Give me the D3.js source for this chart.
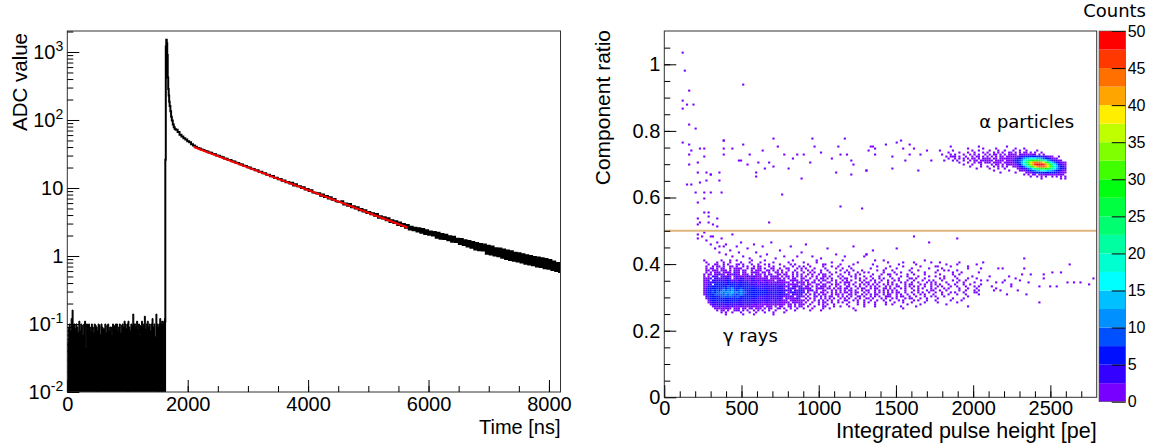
<!DOCTYPE html>
<html>
<head>
<meta charset="utf-8">
<script src="https://cdn.jsdelivr.net/npm/d3@7"></script>
<style>
  body { margin: 0; background: #fff; }
  svg { display: block; }
  text { font-family: "Liberation Sans", Arial, sans-serif; fill: #000; }
  .note { font-family: "DejaVu Sans", sans-serif; }
</style>
</head>
<body>
<div id="chart"></div>
<script>
// ---------- left panel: recorded pulse ----------
// baseline noise before the trigger, one value every 16 ns
const baseStep = 16;
const baseNoise = [
  0.055, 0.09, 0.1, 0.08, 0.12, 0.16, 0.095, 0.1, 0.085, 0.1,
  0.09, 0.075, 0.11, 0.08, 0.1, 0.095, 0.07, 0.1, 0.11, 0.045,
  0.1, 0.085, 0.1, 0.09, 0.08, 0.1, 0.09, 0.075, 0.1, 0.095,
  0.09, 0.08, 0.1, 0.095, 0.07, 0.1, 0.09, 0.085, 0.085, 0.1,
  0.075, 0.095, 0.1, 0.08, 0.09, 0.09, 0.07, 0.1, 0.095, 0.085,
  0.1, 0.1, 0.08, 0.09, 0.1, 0.075, 0.095, 0.1, 0.09, 0.11,
  0.1, 0.085, 0.1, 0.11, 0.09, 0.08, 0.1, 0.095, 0.14, 0.1,
  0.1, 0.09, 0.11, 0.085, 0.1, 0.07, 0.095, 0.11, 0.09, 0.1,
  0.13, 0.085, 0.1, 0.11, 0.09, 0.1, 0.08, 0.1, 0.12, 0.09,
  0.1, 0.065, 0.14, 0.1, 0.09, 0.1, 0.12, 0.1, 0.11, 0.1,
  0.11, 0.12
];
// rise and fast component
const pulseT = [1624, 1628, 1636, 1644, 1652, 1660, 1668, 1676, 1684, 1692, 1700, 1712, 1724, 1736, 1752, 1768, 1784];
const pulseV = [0.11, 26, 1200, 1520, 1350, 900, 420, 285, 230, 185, 160, 135, 112, 98, 86, 78, 74];
// slow tail, one value every 32 ns from 1800 ns
const tailStart = 1800, tailStep = 32;
const tailV = [
  72, 66.5, 60.8, 57.4, 53.9, 51.6, 48.8, 46.9, 43.9, 42.2,
  40.4, 38.7, 38.2, 36.8, 36.3, 35.1, 34.4, 33.2, 32.9, 31.7,
  31.3, 30.1, 29.8, 28.8, 28.4, 27.2, 27.0, 25.9, 25.7, 24.7,
  24.5, 23.5, 23.3, 22.4, 22.1, 21.2, 21.1, 20.2, 20.1, 19.2,
  19.1, 18.2, 18.2, 17.3, 17.3, 16.5, 16.5, 15.7, 15.7, 14.9,
  15.0, 14.2, 14.2, 13.5, 13.6, 12.8, 12.9, 12.2, 12.3, 11.6,
  11.9, 10.9, 11.4, 10.6, 10.6, 10.0, 10.3, 9.5, 9.7, 9.0,
  9.3, 8.6, 8.5, 8.3, 8.4, 7.7, 8.0, 7.4, 7.6, 7.0,
  7.3, 6.7, 6.9, 6.4, 6.3, 6.2, 6.4, 5.7, 5.9, 5.5,
  5.8, 5.2, 5.4, 5.0, 5.2, 4.7, 4.9, 4.5, 4.7, 4.3,
  4.45, 4.1, 4.25, 3.9, 4.15, 3.65, 3.85, 3.55, 3.7, 3.35,
  3.6, 3.15, 3.35, 3.05, 3.25, 2.85, 3.1, 2.75, 2.95, 2.6,
  2.85, 2.45, 2.7, 2.4, 2.6, 2.3, 2.55, 2.2, 2.5, 2.1,
  2.4, 2.05, 2.3, 2.0, 2.25, 1.85, 2.2, 1.8, 2.1, 1.78,
  2.05, 1.7, 1.95, 1.62, 1.92, 1.6, 1.8, 1.5, 1.78, 1.45,
  1.7, 1.38, 1.66, 1.32, 1.6, 1.25, 1.55, 1.22, 1.5, 1.2,
  1.48, 1.08, 1.42, 1.05, 1.38, 1.02, 1.3, 0.99, 1.29, 0.94,
  1.25, 0.9, 1.2, 0.87, 1.17, 0.85, 1.12, 0.83, 1.1, 0.8,
  1.06, 0.77, 1.03, 0.75, 1.0, 0.73, 0.97, 0.7, 0.95, 0.69,
  0.93, 0.66, 0.9, 0.65, 0.87, 0.62, 0.83, 0.6, 0.79, 0.58
];
// exponential fit (straight on the log axis): end points
const fitT = [2100, 5650];
const fitV = [40, 2.62];
const timeTicks = [0, 2000, 4000, 6000, 8000];
const adcDecades = [-2, -1, 0, 1, 2, 3];

// ---------- right panel: component ratio vs pulse height ----------
const peBin = 14, ratioBin = 0.006;
// gamma band: first column at 196 pe, first (top) row at ratio 0.408
const gammaOrigin = [196, 0.408];
const gammaRows = [
  "....1..... ..1...1..1 ......1... ..1....... .....1.... ......1... ........1. .......... ...1...... .......... ......1... .......... .......... ......",
  ".....1.... 1..1..1... .1...1.... 1.....1... ...1...... 1.....1... ...1...... .....1.... .........1 ......1... .......... ...1...... .......... ......",
  "......1..2 1..1.2...1 1.1...1..1 ..1.1....1 ....1.1... ..1......1 1......1.. ...1...... ..1....... ....1..... ..1....... ......1... .1........ ......",
  ".....1..1. 21.1..12.1 ..2.1..1.1 1...1.2... .1...1..1. 1..1.....1 ...1..1... .1........ ....1..... 1.....1... ....1..... .1......1. ......1... ......",
  ".....1.21. 2.12..2.11 21..1.12.1 1.1..21..1 ..11...1.1 .1...1.... 1....1..1. ..1....... .1......1. ...1...... 1.......1. ....1..... ......1... ..1...",
  ".....21.12 1.212.1.22 1.21..2.11 2..11.1.2. 1..2..1..1 ..1.1...1. .1.....1.. 1..1...1.. ....1..1.. .1.......1 ...1...... ..1....1.. .1........ ......",
  ".....1.2.2 21.1221.31 2.12..2121 .21.1..12. 1.1..2.1.. 1..1.1..1. ..1..1...1 .1...1..1. 1......1.. ..1..1.... 1.....1... .1.......1 ...1...... .1....",
  "....1.21.2 2312.22131 2.212.1.22 1.1.21..21 .21..1.1.1 ..1.2..1.1 1..1...1.. .1..1.1... ..1...1..1 1..1....1. .1....1... ...1.....1 ..1....... ......",
  "....1.2.32 3.23132.23 1222321312 2.12.2121. 1.21.1.1.2 .1..2.1..1 1.1...1.1. ..1.1...1. .1...1.... 1....1..1. ...1....1. .1...1.... 1.......1. ......",
  "....1223.3 3232432.24 2332123222 1221.21221 .2.1.12..1 2..1..1.11 .1.2...1.1 1...1.1..1 ..1..1.1.. .1..1....1 1.1...1... ...1.1.... .1....1... 1.....",
  "....123.43 4343354232 3342323313 2232221.12 21..2112.1 .12..1.1.2 1..2.1..1. 1.1...2.1. .1.1..1..1 ..1.1...1. .1...1..1. 1...1....1 ..1..1.... ..1...",
  "....124344 5454365453 4535424232 3223212232 1221.2.212 2.1.21..1. .12..1.1.1 21..1..1.1 1..1.2...1 .1...1.1.. 1..1...1.1 .1....1... .1..1....1 ......",
  "....1243.5 5556476554 5364534342 3343232322 23.22122.1 1.21..21.2 2..1.21..1 .1.2..1.1. 2.1.1..2.1 .1.1...1.1 1...1.1..1 .1.1...1.. 1...1..1.. ..1...",
  "....125465 6657687665 6656545443 4434343333 3223.23232 .12.1.1.21 1.2..2.1.. 21..1.2..1 .1.1.2..1. 1..21..1.1 .1.1..1..1 ..1.1...1. .1...1...1 .1....",
  "....135676 7768798a76 7876655654 4454343434 32.3232.23 2113..1212 .12.1.12.1 2.1..2.11. .2.11..21. 1.1..1.1.. 1..1.1...1 .1...1.1.. ..1...1... 1.....",
  "....135787 879a8b9c87 8a87766665 5545443434 33323.3233 1.223.1..2 2..1.2.1.2 .12.1..2.1 2..1.2.1.1 .1.2...1.. .1.1...1.1 1..1..1... ..1..1...1 .1....",
  "....135787 98a9bacd9a 9b98776675 5555454545 43.2433233 3.2..21.12 .1.2.1.2.1 2.1.12..1. 1..2.1.2.1 .1.21..1.. 1..1.1..1. .1..1...1. 1...1....1 1.....",
  "....135678 8899a9b887 9a87766565 5545444443 3332.32323 .2.2.3.1.2 1..2.21.1. .21.2..1.2 .1.21..1.1 2..1.1..1. .1..1.1... 1...1..1.. .1...1.... .1....",
  ".....34677 7789888878 8676665554 4444343434 322232.232 2.1..22.1. 2.21..1.2. 1.2..12.1. .2.1.1..21 1..1.21..1 ..1...1..1 .1...1.... ......1... ......",
  ".....13556 6676776676 7565554544 4343434333 2.3222232. .2.1.2..2. 1.1.2..1.2 .2..1.1..1 1.2...1.1. .1.1...1.1 1...1..1.. ..1......1 ....1..... ......",
  "......2455 5565565655 5444544433 3333322323 222.221212 1.2..1.2.1 .1.2..1..1 2..1.1..1. .1..1..1.. 1...1.1... .1.1...1.. .1......1. ...1...... ......",
  "......1344 4445454544 4443434333 3223232322 2212.21121 .1..2..1.1 1..1..1.2. .1...1..1. 1..1....1. ..1...1... 1.....1... ..1....... .1........ ......",
  ".......233 3434343433 3332332232 2222222222 12.12.1.12 1..1...1.1 .1..1..... 1....1..1. ...1....1. .1......1. ....1..... ......1... .......... ......",
  "........12 2323232322 2222222222 12.121.2.1 1..21.1.11 ..1..1...1 1...1..1.. .1......1. ...1...... .....1.... ..1....... .......... ......1... ......",
  ".........1 1212121.12 1.21.21.11 1.1.11..11 .1..1..1.. 1...1....1 ..1....... ...1...... .......... ......1...",
  ".......... 1.11.1..11 1.1.1..1.1 .1..1..1.. ..1...1... ...1....1. .......... ....1.....",
  ".......... ..1.1..1.. .1...1..1. ..1...1... .1........",
  ".......... ....1..... ..1....1.. ......1..."
];
// alpha band: first column at 1820 pe, first (top) row at ratio 0.750
const alphaOrigin = [1820, 0.750];
const alphaRows = [
  "..1....... .....1.... ........1. .......... .......... ......",
  ".......... 1......1.. ...1...... ..1...1... .......... ......",
  "...1...... ..1..1.... 1...1..1.. .1..1..1.. ..1....... ......",
  ".1....1... 1..1...1.1 ..1.1.1..1 1.1.1.11.1 .1..1..... ......",
  "..1.1...1. .1.1.1..1. 1.11.1.1.1 121.212121 21.1.1.... ......",
  "1.111.1..1 ..1.11.1.1 .1.2.11.11 1112345667 7766543211 ..1...",
  ".1..1.1.1. 1.11.1.121 1.21.12121 123579bdeg ggedb97532 11....",
  "...1.1..1. .1.21.1121 21.2121.21 23469cgkor tutrokgc96 4321..",
  "......1... 1..1.21.12 1.2121.212 12469diouz EHIHEzuoid 964211",
  "........1. ..1...1... .1.11.1.21 11247afkry EJNOMJExrl fa7421",
  ".......... .1....1..1 ..1.1.1.1. .112469dio uzEHIHEzuo id9642",
  ".......... ....1..... 1...1..1.. ...123469c gkortutrok gc9643",
  ".......... .......... ..1......1 ....112357 9bdegggedb 975321",
  ".......... .......... .....1.... ..1....112 3456677766 543211",
  ".......... .......... .......... ......1.1. 11.1212121 21211.",
  ".......... .......... .......... .........1 ..1.1.1..1 .1.1.1",
  ".......... .......... .......... .......... ....1..... ...1.1"
];
// isolated single-count cells [pe, ratio]
const singleHits = [
  [125,1.034],[136,0.98],[166,0.92],[125,0.889],[145,0.879],[192,0.879],[125,0.867],[154,0.821],[201,0.804],
  [125,0.765],[166,0.76],[179,0.738],[166,0.726],[231,0.746],[257,0.722],[214,0.703],[166,0.7],[145,0.641],
  [179,0.641],[214,0.676],[231,0.646],[199,0.614],[257,0.615],[257,0.598],[210,0.584],[266,0.651],[270,0.673],
  [296,0.666],[300,0.671],[296,0.617],[257,0.555],[289,0.555],[214,0.537],[281,0.541],[346,0.537],[257,0.745],
  [378,0.772],[387,0.768],[378,0.746],[378,0.726],[436,0.746],[361,0.675],[361,0.651],[365,0.617],[507,0.94],
  [514,0.756],[482,0.714],[490,0.71],[534,0.699],[547,0.726],[598,0.676],[598,0.664],[615,0.707],[637,0.742],
  [648,0.69],[673,0.707],[702,0.775],[706,0.695],[741,0.751],[771,0.729],[760,0.607],[807,0.686],[883,0.659],
  [835,0.719],[857,0.726],[907,0.726],[943,0.703],[952,0.775],[971,0.751],[1019,0.737],[1084,0.719],[1110,0.672],
  [1127,0.751],[1138,0.726],[1142,0.572],[1166,0.775],[1181,0.726],[1207,0.712],[1228,0.702],[1209,0.667],
  [1278,0.567],[1315,0.681],[1324,0.742],[1345,0.751],[1364,0.746],[1364,0.726],[1311,0.68],[1343,0.752],
  [1436,0.757],[1483,0.72],[1483,0.689],[1500,0.767],[1526,0.77],[1548,0.744],[1559,0.712],[1587,0.757],
  [1591,0.727],[1623,0.744],[1645,0.68],[1656,0.727],[1699,0.74],[1731,0.714],[1785,0.742],[1796,0.73],[1807,0.714],
  [212,0.49],[221,0.475],[242,0.485],[264,0.495],[275,0.47],[296,0.48],[307,0.46],[318,0.485],[328,0.445],
  [339,0.465],[350,0.455],[360,0.435],[371,0.475],[382,0.45],[393,0.43],[404,0.46],[425,0.44],[436,0.49],
  [447,0.42],[469,0.455],[479,0.435],[501,0.465],[512,0.425],[533,0.445],[555,0.415],[577,0.46],[598,0.435],
  [620,0.42],[641,0.45],[663,0.43],[695,0.465],[717,0.415],[749,0.44],[782,0.425],[814,0.455],[857,0.42],
  [889,0.435],[922,0.46],[965,0.425],[1008,0.415],[1051,0.445],[1116,0.43],[1170,0.425],[1224,0.45],[1289,0.42],
  [1310,0.43],[1354,0.44],[214,0.517],[231,0.524],[285,0.522],[313,0.517],[349,0.51],[674,0.524],[1623,0.484],
  [1720,0.467],[1893,0.475],[1311,0.427],[1500,0.444],[1418,0.412],[1612,0.402],[1731,0.402],[1774,0.39],
  [1818,0.382],[1915,0.407],[2023,0.397],[2066,0.402],[2163,0.387],[2195,0.387],[2329,0.417],[2329,0.387],
  [2368,0.37],[2450,0.37],[2519,0.377],[2562,0.377],[2631,0.397],[2271,0.357],[2433,0.335],[2363,0.347],
  [2454,0.357],[2497,0.335],[2616,0.347],[2654,0.342],[2697,0.345],[2757,0.337],[2778,0.357],[2540,0.335],
  [2347,0.307],[2433,0.287],[2250,0.332],[2185,0.342],[2152,0.327],[2088,0.352],[2130,0.322],[2100,0.36],
  [2114,0.33],[2142,0.345],[2170,0.318],[2198,0.35],[2212,0.31],[2226,0.365],[2240,0.34],[2282,0.318],
  [2296,0.352],[2310,0.37]
];
const cutRatio = 0.5;
const peTicks = [0, 500, 1000, 1500, 2000, 2500];
const ratioTicks = [0, 0.2, 0.4, 0.6, 0.8, 1];
const countTicks = [0, 5, 10, 15, 20, 25, 30, 35, 40, 45, 50];
const paletteColors = ["#7800ff", "#3400ff", "#0010ff", "#0050ff", "#0090ff", "#00c0ff", "#00ffff",
  "#00ffd0", "#00ffa0", "#00ff70", "#00ff40", "#00ff10", "#40ff00", "#80ff00", "#c0ff00", "#ffee00",
  "#ffa500", "#ff7000", "#ff3800", "#ff0000"];

// ---------- layout ----------
const W = 1155, H = 448;
const L = {x0: 67.3, x1: 560.5, y0: 31, y1: 392};
const R = {x0: 664.3, x1: 1096.7, y0: 31, y1: 397.3};
const P = {x0: 1099, x1: 1125.7, y0: 31, y1: 401.7};

const svg = d3.select("#chart").append("svg")
  .attr("width", W).attr("height", H);
svg.append("rect").attr("width", W).attr("height", H).attr("fill", "#fff");

const defs = svg.append("defs");
defs.append("clipPath").attr("id", "clipL").append("rect")
  .attr("x", L.x0).attr("y", L.y0).attr("width", L.x1 - L.x0).attr("height", L.y1 - L.y0);
defs.append("clipPath").attr("id", "clipR").append("rect")
  .attr("x", R.x0).attr("y", R.y0).attr("width", R.x1 - R.x0).attr("height", R.y1 - R.y0);

// ================= left panel =================
const xT = d3.scaleLinear().domain([0, 8192]).range([L.x0, L.x1]);
const yA = d3.scaleLog().domain([0.01, 2036]).range([L.y1, L.y0]);

const gL = svg.append("g").attr("clip-path", "url(#clipL)");

const basePts = baseNoise.map((v, i) => [i * baseStep, v]);
basePts.push([pulseT[0], baseNoise[baseNoise.length - 1]]);
gL.append("path")
  .datum(basePts)
  .attr("fill", "#000")
  .attr("stroke", "#000")
  .attr("stroke-width", 1)
  .attr("d", d3.area().curve(d3.curveStepAfter)
    .x(d => xT(d[0])).y0(L.y1).y1(d => yA(d[1])));

const wave = pulseT.map((t, i) => [t, pulseV[i]])
  .concat(tailV.map((v, i) => [tailStart + i * tailStep, v]));
wave.push([8200, tailV[tailV.length - 1]]);
const waveLine = d3.line().curve(d3.curveStepAfter).x(d => xT(d[0])).y(d => yA(d[1]));
// rise starts from the bottom of the frame
gL.append("path")
  .datum([[pulseT[0], 0.01], [pulseT[0], pulseV[0]]])
  .attr("fill", "none").attr("stroke", "#000").attr("stroke-width", 2)
  .attr("d", d3.line().x(d => xT(d[0])).y(d => yA(d[1])));
gL.append("path")
  .datum(wave)
  .attr("fill", "none")
  .attr("stroke", "#000")
  .attr("stroke-width", 2)
  .attr("d", waveLine);

gL.append("path")
  .datum(fitT.map((t, i) => [t, fitV[i]]))
  .attr("fill", "none")
  .attr("stroke", "#ff0000")
  .attr("stroke-width", 2)
  .attr("d", d3.line().x(d => xT(d[0])).y(d => yA(d[1])));

// frame
svg.append("rect")
  .attr("x", L.x0).attr("y", L.y0).attr("width", L.x1 - L.x0).attr("height", L.y1 - L.y0)
  .attr("fill", "none").attr("stroke", "#333").attr("stroke-width", 1);

// ticks (inside the frame, ROOT style)
function styleAxis(g) {
  g.select(".domain").remove();
  g.selectAll(".tick line").attr("stroke", "#000");
  g.selectAll("text").attr("font-size", 20).attr("font-family", "Liberation Sans, Arial, sans-serif");
}

svg.append("g").attr("transform", `translate(0,${L.y1})`)
  .call(d3.axisBottom(xT).tickValues(d3.range(500, 8192, 500)).tickSize(-6).tickFormat(""))
  .call(styleAxis);
svg.append("g").attr("transform", `translate(0,${L.y1})`)
  .call(d3.axisBottom(xT).tickValues(timeTicks).tickSize(-12).tickPadding(5).tickFormat(d3.format("d")))
  .call(styleAxis);

const minorLog = [];
adcDecades.forEach(d => {
  for (let m = 2; m <= 9; m++) {
    const v = m * Math.pow(10, d);
    if (v < 2036) minorLog.push(v);
  }
});
svg.append("g").attr("transform", `translate(${L.x0},0)`)
  .call(d3.axisLeft(yA).tickValues(minorLog).tickSize(-6).tickFormat(""))
  .call(styleAxis);
svg.append("g").attr("transform", `translate(${L.x0},0)`)
  .call(d3.axisLeft(yA).tickValues(adcDecades.map(d => Math.pow(10, d))).tickSize(-12).tickFormat(""))
  .call(styleAxis);

const decLabels = svg.append("g").selectAll("text")
  .data(adcDecades).enter().append("text")
  .attr("x", L.x0 - 4)
  .attr("y", d => yA(Math.pow(10, d)))
  .attr("dy", "0.36em")
  .attr("text-anchor", "end")
  .attr("font-size", 20);
decLabels.each(function(d) {
  const t = d3.select(this);
  if (d === 0) { t.text("1"); return; }
  if (d === 1) { t.text("10"); return; }
  t.append("tspan").text("10");
  t.append("tspan").attr("dy", -8).attr("font-size", 14).text(d);
});

svg.append("text")
  .attr("x", L.x1).attr("y", 434)
  .attr("text-anchor", "end").attr("font-size", 20)
  .text("Time [ns]");
svg.append("text")
  .attr("transform", "translate(27,33) rotate(-90)")
  .attr("text-anchor", "end").attr("font-size", 20.5)
  .text("ADC value");

// ================= right panel =================
const xP = d3.scaleLinear().domain([0, 2800]).range([R.x0, R.x1]);
const yR = d3.scaleLinear().domain([0, 1.1]).range([R.y1, R.y0]);
const zCol = d3.scaleQuantize().domain([0, 50]).range(paletteColors);

function level(c) {
  if (c === ".") return 0;
  if (c >= "A" && c <= "Z") return 36 + c.charCodeAt(0) - 65;
  return parseInt(c, 36);
}
function gridCells(origin, rows) {
  const out = [];
  const col0 = Math.round(origin[0] / peBin);
  const row0 = Math.round(origin[1] / ratioBin);
  rows.forEach((row, k) => {
    [...row.replace(/ /g, "")].forEach((c, i) => {
      const n = level(c);
      if (n > 0) out.push({ix: col0 + i, iy: row0 - k, n});
    });
  });
  return out;
}
const cells = gridCells(gammaOrigin, gammaRows)
  .concat(gridCells(alphaOrigin, alphaRows))
  .concat(singleHits.map(d => ({ix: Math.floor(d[0] / peBin), iy: Math.floor(d[1] / ratioBin), n: 1})));
cells.sort((a, b) => a.n - b.n);

const gR = svg.append("g").attr("clip-path", "url(#clipR)");
gR.selectAll("rect.cell")
  .data(cells).enter().append("rect")
  .attr("class", "cell")
  .attr("x", d => xP(d.ix * peBin))
  .attr("y", d => yR((d.iy + 1) * ratioBin))
  .attr("width", d => xP((d.ix + 1) * peBin) - xP(d.ix * peBin))
  .attr("height", d => yR(d.iy * ratioBin) - yR((d.iy + 1) * ratioBin))
  .attr("fill", d => zCol(Math.min(d.n, 49.99)));

gR.append("line")
  .attr("x1", R.x0).attr("x2", R.x1)
  .attr("y1", yR(cutRatio)).attr("y2", yR(cutRatio))
  .attr("stroke", "#dfb67e").attr("stroke-width", 2);

svg.append("rect")
  .attr("x", R.x0).attr("y", R.y0).attr("width", R.x1 - R.x0).attr("height", R.y1 - R.y0)
  .attr("fill", "none").attr("stroke", "#333").attr("stroke-width", 1);

svg.append("g").attr("transform", `translate(0,${R.y1})`)
  .call(d3.axisBottom(xP).tickValues(d3.range(100, 2800, 100)).tickSize(-6).tickFormat(""))
  .call(styleAxis);
svg.append("g").attr("transform", `translate(0,${R.y1})`)
  .call(d3.axisBottom(xP).tickValues(peTicks).tickSize(-12).tickPadding(4).tickFormat(d3.format("d")))
  .call(styleAxis);
svg.append("g").attr("transform", `translate(${R.x0},0)`)
  .call(d3.axisLeft(yR).tickValues(d3.range(0.05, 1.1, 0.05)).tickSize(-6).tickFormat(""))
  .call(styleAxis);
svg.append("g").attr("transform", `translate(${R.x0},0)`)
  .call(d3.axisLeft(yR).tickValues(ratioTicks).tickSize(-12).tickPadding(4).tickFormat(d3.format("~g")))
  .call(styleAxis);

svg.append("text")
  .attr("x", R.x1).attr("y", 438)
  .attr("text-anchor", "end").attr("font-size", 21.5)
  .text("Integrated pulse height [pe]");
svg.append("text")
  .attr("transform", "translate(610,30) rotate(-90)")
  .attr("text-anchor", "end").attr("font-size", 21)
  .text("Component ratio");

svg.append("text").attr("class", "note")
  .attr("x", xP(2040)).attr("y", yR(0.81))
  .attr("font-size", 18)
  .text("α particles");
svg.append("text").attr("class", "note")
  .attr("x", xP(380)).attr("y", yR(0.165))
  .attr("font-size", 18)
  .text("γ rays");

// palette
const yZ = d3.scaleLinear().domain([0, 50]).range([P.y1, P.y0]);
svg.append("g").selectAll("rect")
  .data(paletteColors).enter().append("rect")
  .attr("x", P.x0)
  .attr("width", P.x1 - P.x0)
  .attr("y", (c, i) => yZ((i + 1) * 2.5))
  .attr("height", (c, i) => yZ(i * 2.5) - yZ((i + 1) * 2.5))
  .attr("fill", c => c);
svg.append("g").attr("transform", `translate(${P.x1},0)`)
  .call(d3.axisRight(yZ).tickValues(countTicks).tickSize(-14).tickPadding(2))
  .call(styleAxis)
  .call(g => g.selectAll("text").attr("font-size", 16));
svg.append("rect")
  .attr("x", P.x0).attr("y", P.y0).attr("width", P.x1 - P.x0).attr("height", P.y1 - P.y0)
  .attr("fill", "none").attr("stroke", "#555").attr("stroke-width", 0.6);
svg.append("text").attr("class", "note")
  .attr("x", 1146).attr("y", 17)
  .attr("text-anchor", "end").attr("font-size", 18)
  .text("Counts");
</script>
</body>
</html>
